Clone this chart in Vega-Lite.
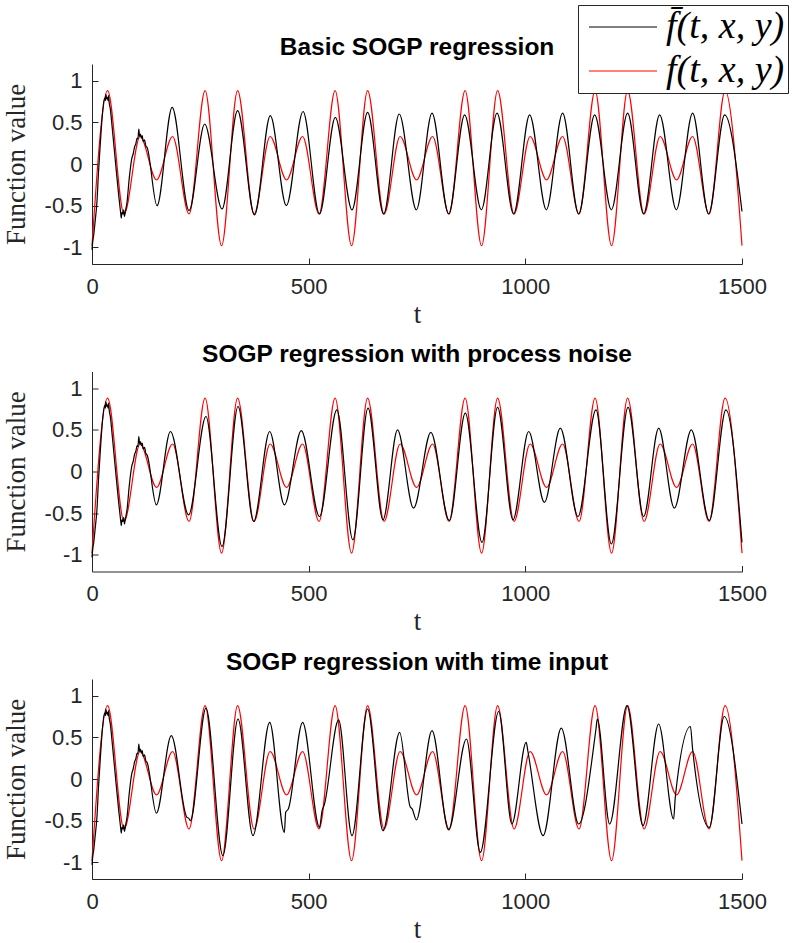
{
  "$schema": "https://vega.github.io/schema/vega-lite/v6.json",
  "padding": {"left": 2, "top": 4, "right": 0, "bottom": 0},
  "background": "white",
  "spacing": 14.5,
  "datasets": {
    "f": [
      {"series": "f(t, x, y)", "t": 0, "v": -0.98}, {"series": "f(t, x, y)", "t": 36, "v": 0.88}, {"series": "f(t, x, y)", "t": 74, "v": -0.6}, {"series": "f(t, x, y)", "t": 111, "v": 0.33}, {"series": "f(t, x, y)", "t": 149, "v": -0.19}, {"series": "f(t, x, y)", "t": 186, "v": 0.33}, {"series": "f(t, x, y)", "t": 224, "v": -0.6}, {"series": "f(t, x, y)", "t": 261, "v": 0.88}, {"series": "f(t, x, y)", "t": 299, "v": -0.98}, {"series": "f(t, x, y)", "t": 336, "v": 0.88}, {"series": "f(t, x, y)", "t": 374, "v": -0.6}, {"series": "f(t, x, y)", "t": 411, "v": 0.33}, {"series": "f(t, x, y)", "t": 449, "v": -0.19}, {"series": "f(t, x, y)", "t": 486, "v": 0.33}, {"series": "f(t, x, y)", "t": 524, "v": -0.6}, {"series": "f(t, x, y)", "t": 561, "v": 0.88}, {"series": "f(t, x, y)", "t": 599, "v": -0.98}, {"series": "f(t, x, y)", "t": 636, "v": 0.88}, {"series": "f(t, x, y)", "t": 674, "v": -0.6}, {"series": "f(t, x, y)", "t": 711, "v": 0.33}, {"series": "f(t, x, y)", "t": 749, "v": -0.19}, {"series": "f(t, x, y)", "t": 786, "v": 0.33}, {"series": "f(t, x, y)", "t": 824, "v": -0.6}, {"series": "f(t, x, y)", "t": 861, "v": 0.88}, {"series": "f(t, x, y)", "t": 899, "v": -0.98}, {"series": "f(t, x, y)", "t": 936, "v": 0.88}, {"series": "f(t, x, y)", "t": 974, "v": -0.6}, {"series": "f(t, x, y)", "t": 1011, "v": 0.33}, {"series": "f(t, x, y)", "t": 1049, "v": -0.19}, {"series": "f(t, x, y)", "t": 1086, "v": 0.33}, {"series": "f(t, x, y)", "t": 1124, "v": -0.6}, {"series": "f(t, x, y)", "t": 1161, "v": 0.88}, {"series": "f(t, x, y)", "t": 1199, "v": -0.98}, {"series": "f(t, x, y)", "t": 1236, "v": 0.88}, {"series": "f(t, x, y)", "t": 1274, "v": -0.6}, {"series": "f(t, x, y)", "t": 1311, "v": 0.33}, {"series": "f(t, x, y)", "t": 1349, "v": -0.19}, {"series": "f(t, x, y)", "t": 1386, "v": 0.33}, {"series": "f(t, x, y)", "t": 1424, "v": -0.6}, {"series": "f(t, x, y)", "t": 1461, "v": 0.88}, {"series": "f(t, x, y)", "t": 1500, "v": -0.98}
    ],
    "fbar1": [
      {"series": "f\u0304(t, x, y)", "t": 0, "v": -1.03}, {"series": "f\u0304(t, x, y)", "t": 2, "v": -0.92}, {"series": "f\u0304(t, x, y)", "t": 4, "v": -0.85}, {"series": "f\u0304(t, x, y)", "t": 7, "v": -0.7}, {"series": "f\u0304(t, x, y)", "t": 11.5, "v": -0.45}, {"series": "f\u0304(t, x, y)", "t": 15, "v": -0.1}, {"series": "f\u0304(t, x, y)", "t": 19, "v": 0.23}, {"series": "f\u0304(t, x, y)", "t": 24.6, "v": 0.63}, {"series": "f\u0304(t, x, y)", "t": 29, "v": 0.79}, {"series": "f\u0304(t, x, y)", "t": 31, "v": 0.76}, {"series": "f\u0304(t, x, y)", "t": 32, "v": 0.84}, {"series": "f\u0304(t, x, y)", "t": 34, "v": 0.78}, {"series": "f\u0304(t, x, y)", "t": 35, "v": 0.8}, {"series": "f\u0304(t, x, y)", "t": 37, "v": 0.76}, {"series": "f\u0304(t, x, y)", "t": 38, "v": 0.82}, {"series": "f\u0304(t, x, y)", "t": 40, "v": 0.72}, {"series": "f\u0304(t, x, y)", "t": 42, "v": 0.67}, {"series": "f\u0304(t, x, y)", "t": 46, "v": 0.47}, {"series": "f\u0304(t, x, y)", "t": 54, "v": 0.03}, {"series": "f\u0304(t, x, y)", "t": 61.5, "v": -0.37}, {"series": "f\u0304(t, x, y)", "t": 66, "v": -0.58}, {"series": "f\u0304(t, x, y)", "t": 67.7, "v": -0.65}, {"series": "f\u0304(t, x, y)", "t": 69, "v": -0.58}, {"series": "f\u0304(t, x, y)", "t": 71.5, "v": -0.6}, {"series": "f\u0304(t, x, y)", "t": 73, "v": -0.55}, {"series": "f\u0304(t, x, y)", "t": 75, "v": -0.63}, {"series": "f\u0304(t, x, y)", "t": 77, "v": -0.57}, {"series": "f\u0304(t, x, y)", "t": 81, "v": -0.45}, {"series": "f\u0304(t, x, y)", "t": 86, "v": -0.17}, {"series": "f\u0304(t, x, y)", "t": 92, "v": 0.07}, {"series": "f\u0304(t, x, y)", "t": 95, "v": 0.12}, {"series": "f\u0304(t, x, y)", "t": 98.5, "v": 0.21}, {"series": "f\u0304(t, x, y)", "t": 101, "v": 0.24}, {"series": "f\u0304(t, x, y)", "t": 104, "v": 0.31}, {"series": "f\u0304(t, x, y)", "t": 106, "v": 0.3}, {"series": "f\u0304(t, x, y)", "t": 108, "v": 0.42}, {"series": "f\u0304(t, x, y)", "t": 110, "v": 0.33}, {"series": "f\u0304(t, x, y)", "t": 112, "v": 0.36}, {"series": "f\u0304(t, x, y)", "t": 114, "v": 0.31}, {"series": "f\u0304(t, x, y)", "t": 116, "v": 0.34}, {"series": "f\u0304(t, x, y)", "t": 118, "v": 0.27}, {"series": "f\u0304(t, x, y)", "t": 121.5, "v": 0.29}, {"series": "f\u0304(t, x, y)", "t": 124, "v": 0.22}, {"series": "f\u0304(t, x, y)", "t": 127, "v": 0.2},
      {"series": "f\u0304(t, x, y)", "t": 150, "v": -0.5}, {"series": "f\u0304(t, x, y)", "t": 185, "v": 0.68}, {"series": "f\u0304(t, x, y)", "t": 224, "v": -0.56}, {"series": "f\u0304(t, x, y)", "t": 260, "v": 0.48}, {"series": "f\u0304(t, x, y)", "t": 300, "v": -0.54}, {"series": "f\u0304(t, x, y)", "t": 336, "v": 0.64}, {"series": "f\u0304(t, x, y)", "t": 375, "v": -0.61}, {"series": "f\u0304(t, x, y)", "t": 411.5, "v": 0.58}, {"series": "f\u0304(t, x, y)", "t": 448.5, "v": -0.5}, {"series": "f\u0304(t, x, y)", "t": 487, "v": 0.63}, {"series": "f\u0304(t, x, y)", "t": 525, "v": -0.6}, {"series": "f\u0304(t, x, y)", "t": 561.5, "v": 0.56}, {"series": "f\u0304(t, x, y)", "t": 600, "v": -0.55}, {"series": "f\u0304(t, x, y)", "t": 636, "v": 0.62}, {"series": "f\u0304(t, x, y)", "t": 673, "v": -0.6}, {"series": "f\u0304(t, x, y)", "t": 709, "v": 0.6}, {"series": "f\u0304(t, x, y)", "t": 748.5, "v": -0.55}, {"series": "f\u0304(t, x, y)", "t": 784.6, "v": 0.61}, {"series": "f\u0304(t, x, y)", "t": 823, "v": -0.6}, {"series": "f\u0304(t, x, y)", "t": 860, "v": 0.59}, {"series": "f\u0304(t, x, y)", "t": 898.5, "v": -0.55}, {"series": "f\u0304(t, x, y)", "t": 934.6, "v": 0.61}, {"series": "f\u0304(t, x, y)", "t": 973, "v": -0.6}, {"series": "f\u0304(t, x, y)", "t": 1010, "v": 0.59}, {"series": "f\u0304(t, x, y)", "t": 1048.5, "v": -0.55}, {"series": "f\u0304(t, x, y)", "t": 1086, "v": 0.61}, {"series": "f\u0304(t, x, y)", "t": 1123, "v": -0.6}, {"series": "f\u0304(t, x, y)", "t": 1160, "v": 0.59}, {"series": "f\u0304(t, x, y)", "t": 1198.5, "v": -0.55}, {"series": "f\u0304(t, x, y)", "t": 1236, "v": 0.61}, {"series": "f\u0304(t, x, y)", "t": 1273, "v": -0.6}, {"series": "f\u0304(t, x, y)", "t": 1310, "v": 0.59}, {"series": "f\u0304(t, x, y)", "t": 1348.5, "v": -0.55}, {"series": "f\u0304(t, x, y)", "t": 1386, "v": 0.61}, {"series": "f\u0304(t, x, y)", "t": 1423, "v": -0.6}, {"series": "f\u0304(t, x, y)", "t": 1460, "v": 0.59}, {"series": "f\u0304(t, x, y)", "t": 1500, "v": -0.57}
    ],
    "fbar2": [
      {"series": "f\u0304(t, x, y)", "t": 0, "v": -1.03}, {"series": "f\u0304(t, x, y)", "t": 2, "v": -0.92}, {"series": "f\u0304(t, x, y)", "t": 4, "v": -0.85}, {"series": "f\u0304(t, x, y)", "t": 7, "v": -0.7}, {"series": "f\u0304(t, x, y)", "t": 11.5, "v": -0.45}, {"series": "f\u0304(t, x, y)", "t": 15, "v": -0.1}, {"series": "f\u0304(t, x, y)", "t": 19, "v": 0.23}, {"series": "f\u0304(t, x, y)", "t": 24.6, "v": 0.63}, {"series": "f\u0304(t, x, y)", "t": 29, "v": 0.79}, {"series": "f\u0304(t, x, y)", "t": 31, "v": 0.76}, {"series": "f\u0304(t, x, y)", "t": 32, "v": 0.84}, {"series": "f\u0304(t, x, y)", "t": 34, "v": 0.78}, {"series": "f\u0304(t, x, y)", "t": 35, "v": 0.8}, {"series": "f\u0304(t, x, y)", "t": 37, "v": 0.76}, {"series": "f\u0304(t, x, y)", "t": 38, "v": 0.82}, {"series": "f\u0304(t, x, y)", "t": 40, "v": 0.72}, {"series": "f\u0304(t, x, y)", "t": 42, "v": 0.67}, {"series": "f\u0304(t, x, y)", "t": 46, "v": 0.47}, {"series": "f\u0304(t, x, y)", "t": 54, "v": 0.03}, {"series": "f\u0304(t, x, y)", "t": 61.5, "v": -0.37}, {"series": "f\u0304(t, x, y)", "t": 66, "v": -0.58}, {"series": "f\u0304(t, x, y)", "t": 67.7, "v": -0.65}, {"series": "f\u0304(t, x, y)", "t": 69, "v": -0.58}, {"series": "f\u0304(t, x, y)", "t": 71.5, "v": -0.6}, {"series": "f\u0304(t, x, y)", "t": 73, "v": -0.55}, {"series": "f\u0304(t, x, y)", "t": 75, "v": -0.63}, {"series": "f\u0304(t, x, y)", "t": 77, "v": -0.57}, {"series": "f\u0304(t, x, y)", "t": 81, "v": -0.45}, {"series": "f\u0304(t, x, y)", "t": 86, "v": -0.17}, {"series": "f\u0304(t, x, y)", "t": 92, "v": 0.07}, {"series": "f\u0304(t, x, y)", "t": 95, "v": 0.12}, {"series": "f\u0304(t, x, y)", "t": 98.5, "v": 0.21}, {"series": "f\u0304(t, x, y)", "t": 101, "v": 0.24}, {"series": "f\u0304(t, x, y)", "t": 104, "v": 0.31}, {"series": "f\u0304(t, x, y)", "t": 106, "v": 0.3}, {"series": "f\u0304(t, x, y)", "t": 108, "v": 0.42}, {"series": "f\u0304(t, x, y)", "t": 110, "v": 0.33}, {"series": "f\u0304(t, x, y)", "t": 112, "v": 0.36}, {"series": "f\u0304(t, x, y)", "t": 114, "v": 0.31}, {"series": "f\u0304(t, x, y)", "t": 116, "v": 0.34}, {"series": "f\u0304(t, x, y)", "t": 118, "v": 0.27}, {"series": "f\u0304(t, x, y)", "t": 121.5, "v": 0.29}, {"series": "f\u0304(t, x, y)", "t": 124, "v": 0.22}, {"series": "f\u0304(t, x, y)", "t": 127, "v": 0.2},
      {"series": "f\u0304(t, x, y)", "t": 148.5, "v": -0.4}, {"series": "f\u0304(t, x, y)", "t": 181, "v": 0.48}, {"series": "f\u0304(t, x, y)", "t": 223, "v": -0.52}, {"series": "f\u0304(t, x, y)", "t": 263, "v": 0.66}, {"series": "f\u0304(t, x, y)", "t": 300, "v": -0.9}, {"series": "f\u0304(t, x, y)", "t": 337, "v": 0.78}, {"series": "f\u0304(t, x, y)", "t": 373, "v": -0.6}, {"series": "f\u0304(t, x, y)", "t": 410, "v": 0.48}, {"series": "f\u0304(t, x, y)", "t": 444, "v": -0.4}, {"series": "f\u0304(t, x, y)", "t": 483, "v": 0.49}, {"series": "f\u0304(t, x, y)", "t": 525, "v": -0.54}, {"series": "f\u0304(t, x, y)", "t": 565, "v": 0.74}, {"series": "f\u0304(t, x, y)", "t": 602, "v": -0.82}, {"series": "f\u0304(t, x, y)", "t": 637, "v": 0.76}, {"series": "f\u0304(t, x, y)", "t": 671.5, "v": -0.58}, {"series": "f\u0304(t, x, y)", "t": 705, "v": 0.5}, {"series": "f\u0304(t, x, y)", "t": 742, "v": -0.44}, {"series": "f\u0304(t, x, y)", "t": 782, "v": 0.47}, {"series": "f\u0304(t, x, y)", "t": 824.6, "v": -0.59}, {"series": "f\u0304(t, x, y)", "t": 861.5, "v": 0.7}, {"series": "f\u0304(t, x, y)", "t": 900, "v": -0.85}, {"series": "f\u0304(t, x, y)", "t": 936, "v": 0.77}, {"series": "f\u0304(t, x, y)", "t": 971.5, "v": -0.58}, {"series": "f\u0304(t, x, y)", "t": 1007.7, "v": 0.48}, {"series": "f\u0304(t, x, y)", "t": 1044, "v": -0.37}, {"series": "f\u0304(t, x, y)", "t": 1080.8, "v": 0.52}, {"series": "f\u0304(t, x, y)", "t": 1121.5, "v": -0.54}, {"series": "f\u0304(t, x, y)", "t": 1163, "v": 0.74}, {"series": "f\u0304(t, x, y)", "t": 1198.5, "v": -0.87}, {"series": "f\u0304(t, x, y)", "t": 1237, "v": 0.77}, {"series": "f\u0304(t, x, y)", "t": 1273, "v": -0.54}, {"series": "f\u0304(t, x, y)", "t": 1307.7, "v": 0.52}, {"series": "f\u0304(t, x, y)", "t": 1343.8, "v": -0.44}, {"series": "f\u0304(t, x, y)", "t": 1383, "v": 0.5}, {"series": "f\u0304(t, x, y)", "t": 1424.6, "v": -0.59}, {"series": "f\u0304(t, x, y)", "t": 1463, "v": 0.74}, {"series": "f\u0304(t, x, y)", "t": 1500, "v": -0.85}
    ],
    "fbar3": [
      {"series": "f\u0304(t, x, y)", "t": 0, "v": -1.03}, {"series": "f\u0304(t, x, y)", "t": 2, "v": -0.92}, {"series": "f\u0304(t, x, y)", "t": 4, "v": -0.85}, {"series": "f\u0304(t, x, y)", "t": 7, "v": -0.7}, {"series": "f\u0304(t, x, y)", "t": 11.5, "v": -0.45}, {"series": "f\u0304(t, x, y)", "t": 15, "v": -0.1}, {"series": "f\u0304(t, x, y)", "t": 19, "v": 0.23}, {"series": "f\u0304(t, x, y)", "t": 24.6, "v": 0.63}, {"series": "f\u0304(t, x, y)", "t": 29, "v": 0.79}, {"series": "f\u0304(t, x, y)", "t": 31, "v": 0.76}, {"series": "f\u0304(t, x, y)", "t": 32, "v": 0.84}, {"series": "f\u0304(t, x, y)", "t": 34, "v": 0.78}, {"series": "f\u0304(t, x, y)", "t": 35, "v": 0.8}, {"series": "f\u0304(t, x, y)", "t": 37, "v": 0.76}, {"series": "f\u0304(t, x, y)", "t": 38, "v": 0.82}, {"series": "f\u0304(t, x, y)", "t": 40, "v": 0.72}, {"series": "f\u0304(t, x, y)", "t": 42, "v": 0.67}, {"series": "f\u0304(t, x, y)", "t": 46, "v": 0.47}, {"series": "f\u0304(t, x, y)", "t": 54, "v": 0.03}, {"series": "f\u0304(t, x, y)", "t": 61.5, "v": -0.37}, {"series": "f\u0304(t, x, y)", "t": 66, "v": -0.58}, {"series": "f\u0304(t, x, y)", "t": 67.7, "v": -0.65}, {"series": "f\u0304(t, x, y)", "t": 69, "v": -0.58}, {"series": "f\u0304(t, x, y)", "t": 71.5, "v": -0.6}, {"series": "f\u0304(t, x, y)", "t": 73, "v": -0.55}, {"series": "f\u0304(t, x, y)", "t": 75, "v": -0.63}, {"series": "f\u0304(t, x, y)", "t": 77, "v": -0.57}, {"series": "f\u0304(t, x, y)", "t": 81, "v": -0.45}, {"series": "f\u0304(t, x, y)", "t": 86, "v": -0.17}, {"series": "f\u0304(t, x, y)", "t": 92, "v": 0.07}, {"series": "f\u0304(t, x, y)", "t": 95, "v": 0.12}, {"series": "f\u0304(t, x, y)", "t": 98.5, "v": 0.21}, {"series": "f\u0304(t, x, y)", "t": 101, "v": 0.24}, {"series": "f\u0304(t, x, y)", "t": 104, "v": 0.31}, {"series": "f\u0304(t, x, y)", "t": 106, "v": 0.3}, {"series": "f\u0304(t, x, y)", "t": 108, "v": 0.42}, {"series": "f\u0304(t, x, y)", "t": 110, "v": 0.33}, {"series": "f\u0304(t, x, y)", "t": 112, "v": 0.36}, {"series": "f\u0304(t, x, y)", "t": 114, "v": 0.31}, {"series": "f\u0304(t, x, y)", "t": 116, "v": 0.34}, {"series": "f\u0304(t, x, y)", "t": 118, "v": 0.27}, {"series": "f\u0304(t, x, y)", "t": 121.5, "v": 0.29}, {"series": "f\u0304(t, x, y)", "t": 124, "v": 0.22}, {"series": "f\u0304(t, x, y)", "t": 127, "v": 0.2},
      {"series": "f\u0304(t, x, y)", "t": 148.5, "v": -0.41}, {"series": "f\u0304(t, x, y)", "t": 183, "v": 0.52}, {"series": "f\u0304(t, x, y)", "t": 219, "v": -0.46}, {"series": "f\u0304(t, x, y)", "t": 223, "v": -0.47}, {"series": "f\u0304(t, x, y)", "t": 227, "v": -0.5}, {"series": "f\u0304(t, x, y)", "t": 263, "v": 0.85}, {"series": "f\u0304(t, x, y)", "t": 302, "v": -0.92}, {"series": "f\u0304(t, x, y)", "t": 337, "v": 0.72}, {"series": "f\u0304(t, x, y)", "t": 371.5, "v": -0.68}, {"series": "f\u0304(t, x, y)", "t": 410, "v": 0.68}, {"series": "f\u0304(t, x, y)", "t": 444, "v": -0.64}, {"series": "f\u0304(t, x, y)", "t": 447, "v": -0.4}, {"series": "f\u0304(t, x, y)", "t": 453, "v": -0.36}, {"series": "f\u0304(t, x, y)", "t": 486, "v": 0.68}, {"series": "f\u0304(t, x, y)", "t": 525, "v": -0.58}, {"series": "f\u0304(t, x, y)", "t": 531, "v": -0.38}, {"series": "f\u0304(t, x, y)", "t": 536, "v": -0.31}, {"series": "f\u0304(t, x, y)", "t": 569, "v": 0.71}, {"series": "f\u0304(t, x, y)", "t": 600, "v": -0.68}, {"series": "f\u0304(t, x, y)", "t": 636, "v": 0.84}, {"series": "f\u0304(t, x, y)", "t": 671.5, "v": -0.62}, {"series": "f\u0304(t, x, y)", "t": 710, "v": 0.56}, {"series": "f\u0304(t, x, y)", "t": 734, "v": -0.33}, {"series": "f\u0304(t, x, y)", "t": 739, "v": -0.36}, {"series": "f\u0304(t, x, y)", "t": 748.5, "v": -0.49}, {"series": "f\u0304(t, x, y)", "t": 784.6, "v": 0.58}, {"series": "f\u0304(t, x, y)", "t": 823, "v": -0.61}, {"series": "f\u0304(t, x, y)", "t": 864, "v": 0.48}, {"series": "f\u0304(t, x, y)", "t": 896, "v": -0.88}, {"series": "f\u0304(t, x, y)", "t": 938.5, "v": 0.81}, {"series": "f\u0304(t, x, y)", "t": 969, "v": -0.54}, {"series": "f\u0304(t, x, y)", "t": 1002, "v": 0.44}, {"series": "f\u0304(t, x, y)", "t": 1006, "v": 0.33}, {"series": "f\u0304(t, x, y)", "t": 1041, "v": -0.68}, {"series": "f\u0304(t, x, y)", "t": 1083, "v": 0.61}, {"series": "f\u0304(t, x, y)", "t": 1123, "v": -0.54}, {"series": "f\u0304(t, x, y)", "t": 1163, "v": 0.6}, {"series": "f\u0304(t, x, y)", "t": 1166, "v": 0.72}, {"series": "f\u0304(t, x, y)", "t": 1194.6, "v": -0.54}, {"series": "f\u0304(t, x, y)", "t": 1234.6, "v": 0.88}, {"series": "f\u0304(t, x, y)", "t": 1271.5, "v": -0.56}, {"series": "f\u0304(t, x, y)", "t": 1307.7, "v": 0.66}, {"series": "f\u0304(t, x, y)", "t": 1342.3, "v": -0.48}, {"series": "f\u0304(t, x, y)", "t": 1346, "v": -0.22}, {"series": "f\u0304(t, x, y)", "t": 1381, "v": 0.63}, {"series": "f\u0304(t, x, y)", "t": 1386, "v": 0.36}, {"series": "f\u0304(t, x, y)", "t": 1424.6, "v": -0.58}, {"series": "f\u0304(t, x, y)", "t": 1459, "v": 0.75}, {"series": "f\u0304(t, x, y)", "t": 1500, "v": -0.54}
    ]
  },
  "vconcat": [
    {
      "width": 650, "height": 200,
      "title": "Basic SOGP regression",
      "encoding": {
        "x": {"field": "t", "type": "quantitative", "scale": {"domain": [0, 1500], "nice": false}, "axis": {"values": [0, 500, 1000, 1500], "format": "d", "title": "t"}},
        "y": {"field": "v", "type": "quantitative", "scale": {"domain": [-1.2, 1.2], "nice": false, "zero": false}, "axis": {"values": [-1, -0.5, 0, 0.5, 1], "title": "Function value", "labelExpr": "datum.value < 0 ? '-' + format(-datum.value, '') : format(datum.value, '')"}},
        "color": {"field": "series", "type": "nominal", "scale": {"domain": ["f\u0304(t, x, y)", "f(t, x, y)"], "range": ["#000000", "#ff0000"]}, "legend": {"orient": "none", "legendX": 486, "legendY": -59, "title": null}}
      },
      "layer": [
        {"data": {"name": "f"}, "mark": {"type": "line", "interpolate": "monotone", "strokeWidth": 1.2}},
        {"data": {"name": "fbar1"}, "mark": {"type": "line", "interpolate": "monotone", "strokeWidth": 1.2}}
      ]
    },
    {
      "width": 650, "height": 200,
      "title": "SOGP regression with process noise",
      "encoding": {
        "x": {"field": "t", "type": "quantitative", "scale": {"domain": [0, 1500], "nice": false}, "axis": {"values": [0, 500, 1000, 1500], "format": "d", "title": "t"}},
        "y": {"field": "v", "type": "quantitative", "scale": {"domain": [-1.2, 1.2], "nice": false, "zero": false}, "axis": {"values": [-1, -0.5, 0, 0.5, 1], "title": "Function value", "labelExpr": "datum.value < 0 ? '-' + format(-datum.value, '') : format(datum.value, '')"}},
        "color": {"field": "series", "type": "nominal", "scale": {"domain": ["f\u0304(t, x, y)", "f(t, x, y)"], "range": ["#000000", "#ff0000"]}, "legend": {"orient": "none", "legendX": 486, "legendY": -59, "title": null}}
      },
      "layer": [
        {"data": {"name": "f"}, "mark": {"type": "line", "interpolate": "monotone", "strokeWidth": 1.2}},
        {"data": {"name": "fbar2"}, "mark": {"type": "line", "interpolate": "monotone", "strokeWidth": 1.2}}
      ]
    },
    {
      "width": 650, "height": 200,
      "title": "SOGP regression with time input",
      "encoding": {
        "x": {"field": "t", "type": "quantitative", "scale": {"domain": [0, 1500], "nice": false}, "axis": {"values": [0, 500, 1000, 1500], "format": "d", "title": "t"}},
        "y": {"field": "v", "type": "quantitative", "scale": {"domain": [-1.2, 1.2], "nice": false, "zero": false}, "axis": {"values": [-1, -0.5, 0, 0.5, 1], "title": "Function value", "labelExpr": "datum.value < 0 ? '-' + format(-datum.value, '') : format(datum.value, '')"}},
        "color": {"field": "series", "type": "nominal", "scale": {"domain": ["f\u0304(t, x, y)", "f(t, x, y)"], "range": ["#000000", "#ff0000"]}, "legend": {"orient": "none", "legendX": 486, "legendY": -59, "title": null}}
      },
      "layer": [
        {"data": {"name": "f"}, "mark": {"type": "line", "interpolate": "monotone", "strokeWidth": 1.2}},
        {"data": {"name": "fbar3"}, "mark": {"type": "line", "interpolate": "monotone", "strokeWidth": 1.2}}
      ]
    }
  ],
  "config": {
    "view": {"stroke": null},
    "title": {"font": "Liberation Sans", "fontSize": 24.5, "fontWeight": "bold", "color": "#000000", "offset": 4, "anchor": "middle", "frame": "group"},
    "axis": {"domainColor": "#262626", "tickColor": "#262626", "labelColor": "#262626", "labelFont": "Liberation Sans", "labelFontSize": 22, "titleFont": "Liberation Serif", "titleFontSize": 27, "titleFontWeight": "normal", "titleColor": "#262626", "grid": false, "tickSize": -6, "domainWidth": 1, "tickWidth": 1, "labelFlush": false},
    "axisX": {"labelPadding": 18, "titlePadding": 4},
    "axisY": {"labelPadding": 16, "titlePadding": 14},
    "legend": {"symbolType": "M-2,0H2", "symbolSize": 1156, "symbolOffset": 23, "symbolStrokeWidth": 1, "labelFont": "Liberation Serif", "labelFontStyle": "italic", "labelFontSize": 38, "labelColor": "#000000", "padding": 3, "rowPadding": 6, "labelOffset": 24, "fillColor": "#ffffff", "strokeColor": "#262626", "labelLimit": 300}
  }
}
